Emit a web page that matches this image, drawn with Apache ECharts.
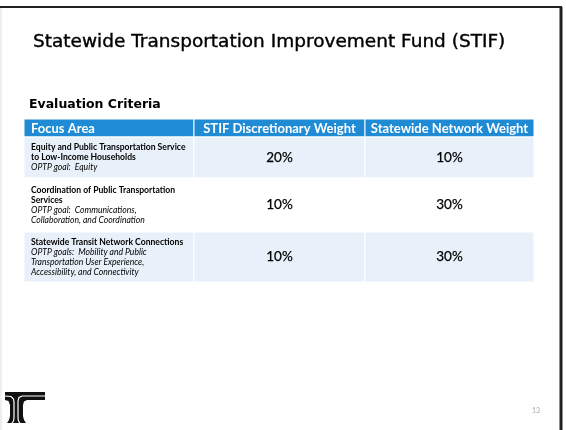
<!DOCTYPE html>
<html>
<head>
<meta charset="utf-8">
<script src="https://cdn.jsdelivr.net/npm/echarts@6/dist/echarts.min.js"></script>
<style>
  html, body { margin: 0; padding: 0; background: #fff; }
  #main { width: 566px; height: 430px; }
</style>
</head>
<body>
<div id="main"></div>
<script>
// table content
const headers = ['Focus Area', 'STIF Discretionary Weight', 'Statewide Network Weight']
const focusAreas = [
  'Equity and Public Transportation Service\nto Low-Income Households',
  'Coordination of Public Transportation\nServices',
  'Statewide Transit Network Connections'
]
const optpGoals = [
  'OPTP goal:  Equity',
  'OPTP goal:  Communications,\nCollaboration, and Coordination',
  'OPTP goals:  Mobility and Public\nTransportation User Experience,\nAccessibility, and Connectivity'
]
const stifWeight = [20, 10, 10]
const networkWeight = [10, 30, 30]

// layout of the table (in table units = px)
const colEdges = [0, 170, 341, 510]
const rowEdges = [0, 18, 59, 113, 163]

const bodyFont = 'Lato, "Open Sans", sans-serif'
const titleFont = '"DejaVu Sans", sans-serif'

// one item per cell: [column, row]
const cells = []
for (let r = 0; r < rowEdges.length - 1; r++) {
  for (let c = 0; c < colEdges.length - 1; c++) {
    cells.push([c, r])
  }
}

function cellText (c, r) {
  if (r === 0) return headers[c]
  if (c === 0) return '{b|' + focusAreas[r - 1] + '}\n{i|' + optpGoals[r - 1] + '}'
  const v = c === 1 ? stifWeight[r - 1] : networkWeight[r - 1]
  return v + '%'
}

function renderCell (params, api) {
  const c = api.value(0)
  const r = api.value(1)
  const p0 = api.coord([colEdges[c], rowEdges[r]])
  const p1 = api.coord([colEdges[c + 1], rowEdges[r + 1]])
  const w = p1[0] - p0[0]
  const h = p1[1] - p0[1]
  let fill = '#ffffff'
  if (r === 0) fill = '#1f8bd5'
  else if (r % 2 === 1) fill = '#e8f1f9'
  const children = [{
    type: 'rect',
    shape: { x: p0[0], y: p0[1], width: w, height: h },
    style: { fill: fill, stroke: '#ffffff', lineWidth: 1 }
  }]
  let textStyle
  if (r === 0) {
    textStyle = {
      text: cellText(c, r),
      x: c === 0 ? p0[0] + 7 : p0[0] + w / 2,
      y: p0[1] + h / 2 + 0.5,
      align: c === 0 ? 'left' : 'center',
      verticalAlign: 'middle',
      fill: '#ffffff',
      font: 'bold 13px ' + bodyFont
    }
  } else if (c === 0) {
    textStyle = {
      text: cellText(c, r),
      x: p0[0] + 7,
      y: p0[1] + h / 2,
      align: 'left',
      verticalAlign: 'middle',
      rich: {
        b: { font: 'bold 8.6px ' + bodyFont, fill: '#000', lineHeight: 10 },
        i: { font: 'italic 8.6px ' + bodyFont, fill: '#000', lineHeight: 10 }
      }
    }
  } else {
    textStyle = {
      text: cellText(c, r),
      x: p0[0] + w / 2,
      y: p0[1] + h / 2,
      align: 'center',
      verticalAlign: 'middle',
      fill: '#000',
      font: '13.5px ' + bodyFont,
      stroke: '#000',
      lineWidth: 0.25
    }
  }
  children.push({ type: 'text', style: textStyle })
  return { type: 'group', children: children }
}

const chart = echarts.init(document.getElementById('main'), null, { renderer: 'canvas' })
chart.setOption({
  backgroundColor: '#ffffff',
  animation: false,
  title: {
    text: 'Statewide Transportation Improvement Fund (STIF)',
    left: 28,
    top: 28,
    textStyle: {
      fontFamily: titleFont, fontSize: 18.5, fontWeight: 'normal', color: '#000',
      textBorderColor: '#000', textBorderWidth: 0.4
    }
  },
  grid: { left: 24, top: 119, width: 510, height: 163 },
  xAxis: { type: 'value', min: 0, max: 510, show: false },
  yAxis: { type: 'value', min: 0, max: 163, inverse: true, show: false },
  series: [{
    type: 'custom',
    renderItem: renderCell,
    data: cells,
    silent: true
  }],
  graphic: [
    // slide frame
    { type: 'line', shape: { x1: 0, y1: 7, x2: 562, y2: 7 }, style: { stroke: '#222', lineWidth: 2 } },
    { type: 'line', shape: { x1: 561, y1: 7, x2: 561, y2: 430 }, style: { stroke: '#222', lineWidth: 3 } },
    { type: 'line', shape: { x1: 1, y1: 8, x2: 1, y2: 430 }, style: { stroke: '#ddd', lineWidth: 1 } },
    {
      type: 'text', left: 29, top: 98,
      style: { text: 'Evaluation Criteria', font: 'bold 12.5px ' + titleFont, fill: '#000' }
    },
    // logo
    {
      type: 'polygon',
      shape: {
        points: [[5, 392], [45, 392], [45, 400], [27, 400], [24, 401.5], [23, 405], [23, 416], [24, 420], [26, 423],
          [7, 423], [9, 420], [10, 416], [10, 405], [8.5, 401], [5, 400]]
      },
      style: { fill: '#111' }
    },
    {
      type: 'polyline',
      shape: { points: [[5, 396], [11, 396.5], [13.5, 399], [14, 402], [14, 418], [13.5, 421], [12, 423]] },
      style: { fill: null, stroke: '#fff', lineWidth: 1.2 }
    },
    {
      type: 'polyline',
      shape: { points: [[45, 396], [22, 396], [19, 397.5], [18, 401], [18, 418], [18.5, 421], [20, 423]] },
      style: { fill: null, stroke: '#fff', lineWidth: 1.2 }
    },
    {
      type: 'text', left: 532, top: 407,
      style: { text: '13', font: '7px ' + bodyFont, fill: '#aaa' }
    }
  ]
})
</script>
</body>
</html>
